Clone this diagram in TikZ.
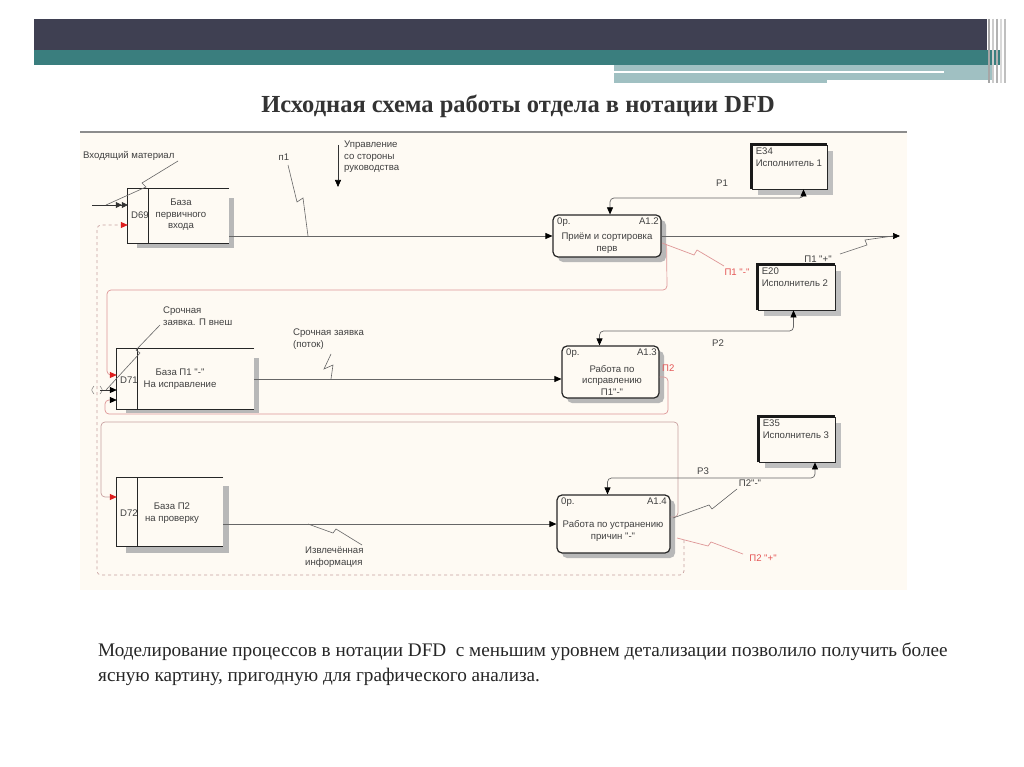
\documentclass[tikz,border=0pt]{standalone}
\usepackage{fontspec}
\setmainfont{Liberation Serif}
\newfontfamily\dfdfont{Liberation Sans}
\usetikzlibrary{arrows.meta,shadows}

\definecolor{slatebar}{RGB}{63,64,82}
\definecolor{tealbar}{RGB}{58,126,126}
\definecolor{lightteal}{RGB}{160,192,194}
\definecolor{cream}{RGB}{254,250,243}
\definecolor{pinkline}{RGB}{222,150,150}
\definecolor{mauve}{RGB}{200,160,160}
\definecolor{redtxt}{RGB}{228,84,84}
\definecolor{redtip}{RGB}{222,30,30}

\tikzset{
  lbl/.style={font=\dfdfont\fontsize{9.6}{11.5}\selectfont, text=black!75, inner sep=0pt},
  flow/.style={draw=black!60, line width=0.7pt, rounded corners=4pt},
  squig/.style={draw=black!60, line width=0.6pt},
  redsquig/.style={draw=pinkline, line width=0.7pt},
  tip/.style={-{Triangle[length=7pt,width=6pt,color=black]}},
  twotip/.style={{Triangle[length=7pt,width=6pt,color=black]}-{Triangle[length=7pt,width=6pt,color=black]}},
  redarrow/.style={-{Triangle[length=7pt,width=6pt,color=redtip]}},
  procbox/.style={draw=black!85, line width=1.2pt, rounded corners=5pt, fill=cream,
    inner sep=0pt, general shadow={fill=black!28, shadow xshift=5pt, shadow yshift=-5pt}},
  entbox/.style={draw=black!85, line width=0.8pt, fill=cream, inner sep=0pt,
    general shadow={fill=black!25, shadow xshift=6pt, shadow yshift=-6pt}},
  storebox/.style={inner sep=0pt},
  storeline/.style={draw=black!85, line width=1.1pt},
  shade/.style={fill=black!28}
}

\begin{document}
\begin{tikzpicture}[x=1pt,y=-1pt]
\useasboundingbox (0,0) rectangle (1024,767);
\fill[white] (0,0) rectangle (1024,767);

% slide header
\fill[slatebar] (34,19) rectangle (987,50);
\fill[tealbar] (34,50) rectangle (1000,65);
\fill[lightteal] (614,65) rectangle (993,80);
\fill[lightteal] (614,80) rectangle (827,83);
\draw[white, line width=1.5pt] (614,72) -- (944,72);
\foreach \x/\c in {989/black!35,993/black!20,997/black!30,1001/black!15,1005/black!25}
  \draw[\c, line width=1.2pt] (\x,19) -- (\x,83);

\node[font=\bfseries\fontsize{24.5}{28}\selectfont, text=black!80] (title) at (518,106)
  {Исходная схема работы отдела в нотации DFD};

% diagram panel
\fill[cream] (80,133) rectangle (907,590);
\draw[black!45, line width=1.5pt] (80,132) -- (907,132);

% data stores
\node[storebox, minimum width=101pt, minimum height=54pt] (d69) at (178.5,216) {};
\node[storebox, minimum width=137pt, minimum height=60pt] (d71) at (185.5,379) {};
\node[storebox, minimum width=106pt, minimum height=68pt] (d72) at (170,512) {};

\fill[shade] ([yshift=-9pt]d69.north east) rectangle ([shift={(5pt,-5pt)}]d69.south east);
\fill[shade] ([xshift=9pt]d69.south west) rectangle ([shift={(5pt,-5pt)}]d69.south east);
\fill[shade] ([yshift=-9pt]d71.north east) rectangle ([shift={(5pt,-4pt)}]d71.south east);
\fill[shade] ([xshift=9pt]d71.south west) rectangle ([shift={(5pt,-4pt)}]d71.south east);
\fill[shade] ([yshift=-8pt]d72.north east) rectangle ([shift={(6pt,-7pt)}]d72.south east);
\fill[shade] ([xshift=9pt]d72.south west) rectangle ([shift={(6pt,-7pt)}]d72.south east);

\draw[storeline] (d69.north east) -- (d69.north west) -- (d69.south west) -- (d69.south east);
\draw[storeline] ([xshift=21pt]d69.north west) -- ([xshift=21pt]d69.south west);
\draw[storeline] (d71.north east) -- (d71.north west) -- (d71.south west) -- (d71.south east);
\draw[storeline] ([xshift=21pt]d71.north west) -- ([xshift=21pt]d71.south west);
\draw[storeline] (d72.north east) -- (d72.north west) -- (d72.south west) -- (d72.south east);
\draw[storeline] ([xshift=21pt]d72.north west) -- ([xshift=21pt]d72.south west);

\node[lbl] (d69id) at (140,215) {D69};
\node[lbl, align=center] (d69txt) at (181,215) {База\\первичного\\входа};
\node[lbl] (d71id) at (129,380) {D71};
\node[lbl, align=center] (d71txt) at (180,379) {База П1 "-"\\На исправление};
\node[lbl] (d72id) at (129,513) {D72};
\node[lbl, align=center] (d72txt) at (172,513) {База П2\\на проверку};

% processes
\node[procbox, minimum width=108pt, minimum height=42pt] (a12) at (607,236) {};
\node[lbl, anchor=north west] (a12op) at (557,218) {0р.};
\node[lbl, anchor=north east] (a12id) at (659,218) {А1.2};
\node[lbl, align=center] (a12txt) at (607,243) {Приём и сортировка\\перв};

\node[procbox, minimum width=97pt, minimum height=52pt] (a13) at (610.5,372) {};
\node[lbl, anchor=north west] (a13op) at (566,349) {0р.};
\node[lbl, anchor=north east] (a13id) at (657,349) {А1.3};
\node[lbl, align=center] (a13txt) at (612,380) {Работа по\\исправлению\\П1"-"};

\node[procbox, minimum width=113pt, minimum height=58pt] (a14) at (613.5,524) {};
\node[lbl, anchor=north west] (a14op) at (561,498) {0р.};
\node[lbl, anchor=north east] (a14id) at (667,498) {А1.4};
\node[lbl, align=center] (a14txt) at (613,531) {Работа по устранению\\причин "-"};

% external entities
\node[entbox, minimum width=75pt, minimum height=44pt] (e34) at (789.5,167) {};
\node[entbox, minimum width=77pt, minimum height=45pt] (e20) at (796.5,287.5) {};
\node[entbox, minimum width=76pt, minimum height=45pt] (e35) at (797,439.5) {};
\foreach \e in {e34,e20,e35}
  \draw[black!90, line width=2.6pt] (\e.south west) -- (\e.north west) -- (\e.north east);
\node[lbl, align=left, anchor=north west] (e34txt) at ([shift={(4pt,-3pt)}]e34.north west) {E34\\Исполнитель 1};
\node[lbl, align=left, anchor=north west] (e20txt) at ([shift={(4pt,-3pt)}]e20.north west) {E20\\Исполнитель 2};
\node[lbl, align=left, anchor=north west] (e35txt) at ([shift={(4pt,-3pt)}]e35.north west) {E35\\Исполнитель 3};

% incoming material
\coordinate (matin) at (92,205);
\draw[flow, draw=black!80, -{Triangle[length=6pt,width=6pt]Triangle[length=6pt,width=6pt]}]
  (matin) -- (d69.west |- matin);
\node[lbl, anchor=west] (matlbl) at (83,156) {Входящий материал};
\draw[squig] (178,161) -- (142,183) -- (146,187) -- (106,205);

% first line
\draw[flow, tip] (d69.east |- a12.west) -- (a12.west);
\node[lbl] (n1lbl) at (284,157) {п1};
\draw[squig] (288,165) -- (297,202) -- (303,198) -- (308,236);

\coordinate (ctrltop) at (338,145);
\coordinate (ctrlend) at (338,187);
\draw[flow, draw=black!80, tip] (ctrltop) -- (ctrlend);
\node[lbl, align=left, anchor=north west] (ctrllbl) at (344,141) {Управление\\со стороны\\руководства};

\coordinate (p1out) at (900,236);
\draw[flow, tip] (a12.east) -- (p1out);
\draw[squig] (840,254) -- (867,245) -- (865,240) -- (893,236);
\node[lbl] (p1pluslbl) at (818,259) {П1 "+"};

\draw[flow, twotip] ([xshift=3pt]a12.north) |- (700,198) -| ([xshift=14pt]e34.south);
\node[lbl] (p1lbl) at (722,183) {P1};

\draw[redsquig] (662,243) -- (694,255) -- (697,250) -- (724,266);
\node[lbl, text=redtxt] (p1minlbl) at (737,272) {П1 "-"};

\draw[flow, draw=pinkline, redarrow] ([shift={(5pt,-8pt)}]a12.east) -- (667,290)
  -- (107,290) -- (107,375) -- (d71.west |- 0,375);

% second line
\coordinate (tunnel) at (100,390);
\draw[black!60] (94,386) .. controls (91,390) .. (94,394);
\draw[black!60] (100,386) .. controls (103,390) .. (100,394);
\draw[flow, draw=black!80, tip] (tunnel) -- (d71.west |- tunnel);
\node[lbl, align=left, anchor=north west] (urglbl) at (163,307) {Срочная\\заявка. П внеш};
\draw[squig] (160,325) -- (136,350) -- (140,353) -- (106,390);

\draw[flow, tip] (d71.east) -- (a13.west |- d71.east);
\node[lbl, align=left, anchor=north west] (urgflowlbl) at (293,329) {Срочная заявка\\(поток)};
\draw[squig] (331,354) -- (324,369) -- (333,365) -- (331,379);

\draw[flow, twotip] ([xshift=-11pt]a13.north) |- (700,331) -| ([xshift=-3pt]e20.south);
\node[lbl] (p2lbl) at (718,343) {P2};

\node[lbl, text=redtxt, anchor=west] (p2redlbl) at (662,368) {П2};
\draw[flow, draw=pinkline, tip] ([yshift=-5pt]a13.east) -- (668,377) -- (668,414)
  -- (105,414) -- (105,400) -- (d71.west |- 0,400);

% third line
\draw[flow, draw=mauve, redarrow] ([yshift=7pt]a14.east) -- (678,517) -- (678,422)
  -- (101,422) -- (101,497) -- (d72.west |- 0,497);

\draw[flow, tip] (d72.east |- a14.west) -- (a14.west);
\draw[squig] (308,524) -- (333,533) -- (336,529) -- (362,545);
\node[lbl, align=left, anchor=north west] (infolbl) at (305,547) {Извлечённая\\информация};

\draw[flow, twotip] ([xshift=-6pt]a14.north) |- (700,478) -| ([xshift=18pt]e35.south);
\node[lbl] (p3lbl) at (703,471) {P3};

\draw[squig] (673,518) -- (709,505) -- (712,509) -- (737,489);
\node[lbl] (p2minlbl) at (750,483) {П2"-"};

\draw[redsquig] (677,538) -- (708,546) -- (711,542) -- (743,554);
\node[lbl, text=redtxt] (p2pluslbl) at (763,558) {П2 "+"};

\coordinate (fbstart) at (684,540);
\draw[flow, draw=mauve, dashed, redarrow] (fbstart) -- (684,575) -- (97,575) -- (97,225)
  -- (d69.west |- 0,225);

% caption
\node[anchor=base west, font=\fontsize{19.2}{23}\selectfont, text=black!85, inner sep=0pt] (cap1) at (98,656)
  {Моделирование процессов в нотации DFD~ с меньшим уровнем детализации позволило получить более};
\node[anchor=base west, font=\fontsize{19.2}{23}\selectfont, text=black!85, inner sep=0pt] (cap2) at (98,681)
  {ясную картину, пригодную для графического анализа.};
\end{tikzpicture}
\end{document}
